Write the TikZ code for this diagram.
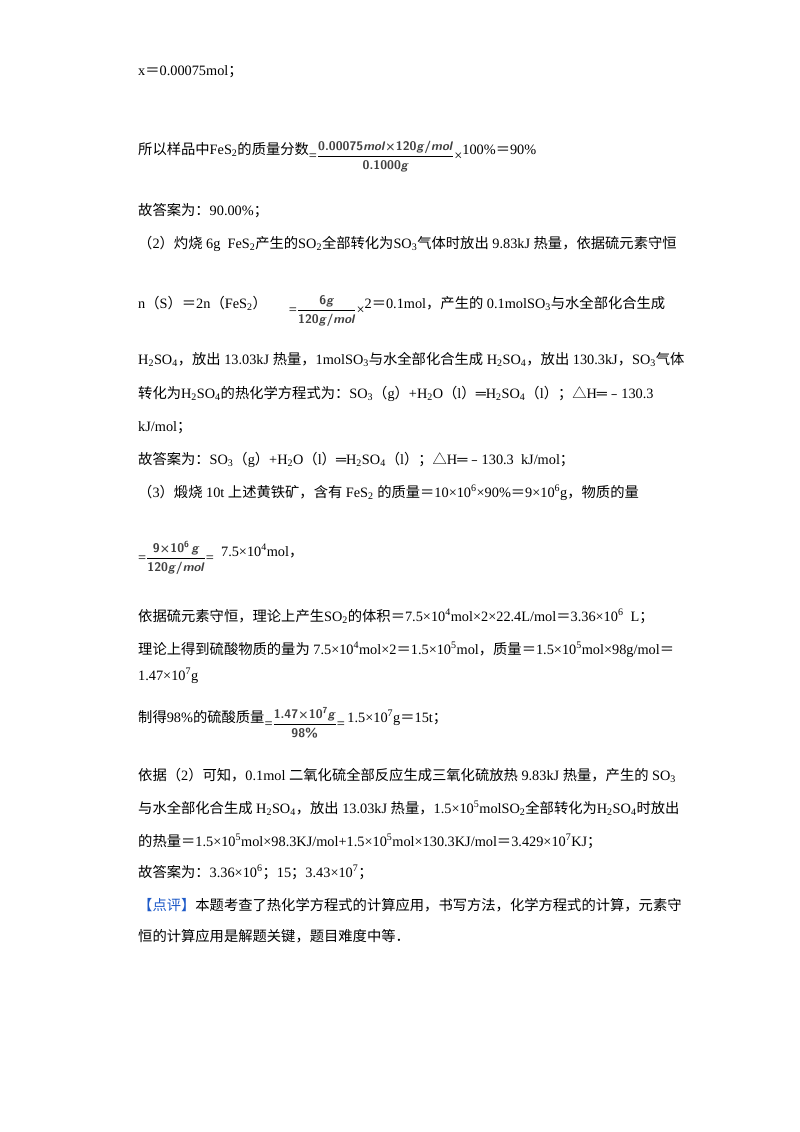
\documentclass[tikz,border=0pt]{standalone}
\usepackage{fontspec}
\setmainfont{Liberation Serif}
\newfontfamily\cjk{Noto Sans CJK SC}
\newcommand\zh[1]{{\cjk #1}}
\newcommand\E{{\cjk ＝}}
\newcommand\sm{{\cjk ；}}
\newcommand\dn[1]{\textsubscript{#1}}
\newcommand\up[1]{\textsuperscript{#1}}
\newcommand\fr[2]{$\displaystyle\frac{\mbox{\fontsize{12.5}{13}\sffamily\bfseries\color[gray]{0.25} #1}}{\mbox{\fontsize{12.5}{13}\sffamily\bfseries\color[gray]{0.25} #2}}$}
\begin{document}
\begin{tikzpicture}[x=1pt,y=-1pt,every node/.style={anchor=base west,inner sep=0pt,font=\fontsize{14.3}{16}\selectfont}]
\useasboundingbox[fill=white] (0,0) rectangle (800,1132);
\node (l1) at (138,76) {x\E0.00075mol\sm};
\node (l2) at (138,154) {\zh{所以样品中}FeS\dn{2}\zh{的质量分数}\raisebox{-6pt}{=}\raisebox{-6pt}{\fr{0.00075\textit{mol}×120\textit{g}/\textit{mol}}{0.1000\textit{g}}}\raisebox{-6pt}{×}100\%\E90\%};
\node (l3) at (138,215) {\zh{故答案为：}90.00\%\sm};
\node (l4) at (138,248) {\zh{（}2\zh{）灼烧} 6g\ \ FeS\dn{2}\zh{产生的}SO\dn{2}\zh{全部转化为}SO\dn{3}\zh{气体时放出} 9.83kJ \zh{热量，依据硫元素守恒}};
\node (l5) at (138,308) {n\zh{（}S\zh{）}\E2n\zh{（}FeS\dn{2}\zh{）}\hspace{22pt}\raisebox{-6pt}{=}\raisebox{-6pt}{\fr{6\textit{g}}{120\textit{g}/\textit{mol}}}\raisebox{-6pt}{×}2\E0.1mol\zh{，产生的} 0.1molSO\dn{3}\zh{与水全部化合生成}};
\node (l6) at (138,364) {H\dn{2}SO\dn{4}\zh{，放出} 13.03kJ \zh{热量，}1molSO\dn{3}\zh{与水全部化合生成} H\dn{2}SO\dn{4}\zh{，放出} 130.3kJ\zh{，}SO\dn{3}\zh{气体}};
\node (l7) at (138,398) {\zh{转化为}H\dn{2}SO\dn{4}\zh{的热化学方程式为：}SO\dn{3}\zh{（}g\zh{）}+H\dn{2}O\zh{（}l\zh{）}═H\dn{2}SO\dn{4}\zh{（}l\zh{）；△}H═\zh{﹣}130.3};
\node (l8) at (138,431) {kJ/mol\sm};
\node (l9) at (138,464) {\zh{故答案为：}SO\dn{3}\zh{（}g\zh{）}+H\dn{2}O\zh{（}l\zh{）}═H\dn{2}SO\dn{4}\zh{（}l\zh{）；△}H═\zh{﹣}130.3\ \ kJ/mol\sm};
\node (l10) at (138,497) {\zh{（}3\zh{）煅烧} 10t \zh{上述黄铁矿，含有} FeS\dn{2} \zh{的质量}\E10×10\up{6}×90\%\E9×10\up{6}g\zh{，物质的量}};
\node (l11) at (138,556) {\raisebox{-6pt}{=}\raisebox{-6pt}{\fr{9×10\up{6}\,\textit{g}}{120\textit{g}/\textit{mol}}}\raisebox{-6pt}{=}\ \ 7.5×10\up{4}mol\zh{，}};
\node (l12) at (138,621) {\zh{依据硫元素守恒，理论上产生}SO\dn{2}\zh{的体积}\E7.5×10\up{4}mol×2×22.4L/mol\E3.36×10\up{6}\ \ L\sm};
\node (l13) at (138,654) {\zh{理论上得到硫酸物质的量为} 7.5×10\up{4}mol×2\E1.5×10\up{5}mol\zh{，质量}\E1.5×10\up{5}mol×98g/mol\E};
\node (l14) at (138,680) {1.47×10\up{7}g};
\node (l15) at (138,722) {\zh{制得}98\%\zh{的硫酸质量}\raisebox{-6pt}{=}\raisebox{-6pt}{\fr{1.47×10\up{7}\textit{g}}{98\%}}\raisebox{-6pt}{=}\,1.5×10\up{7}g\E15t\sm};
\node (l16) at (138,780) {\zh{依据（}2\zh{）可知，}0.1mol \zh{二氧化硫全部反应生成三氧化硫放热} 9.83kJ \zh{热量，产生的} SO\dn{3}};
\node (l17) at (138,813) {\zh{与水全部化合生成} H\dn{2}SO\dn{4}\zh{，放出} 13.03kJ \zh{热量，}1.5×10\up{5}molSO\dn{2}\zh{全部转化为}H\dn{2}SO\dn{4}\zh{时放出}};
\node (l18) at (138,846) {\zh{的热量}\E1.5×10\up{5}mol×98.3KJ/mol+1.5×10\up{5}mol×130.3KJ/mol\E3.429×10\up{7}KJ\sm};
\node (l19) at (138,877) {\zh{故答案为：}3.36×10\up{6}\zh{；}15\zh{；}3.43×10\up{7}\zh{；}};
\node (l20) at (138,910) {\textcolor[HTML]{1E5AC8}{\zh{【点评】}}\zh{本题考查了热化学方程式的计算应用，书写方法，化学方程式的计算，元素守}};
\node (l21) at (138,941) {\zh{恒的计算应用是解题关键，题目难度中等．}};
\end{tikzpicture}
\end{document}
